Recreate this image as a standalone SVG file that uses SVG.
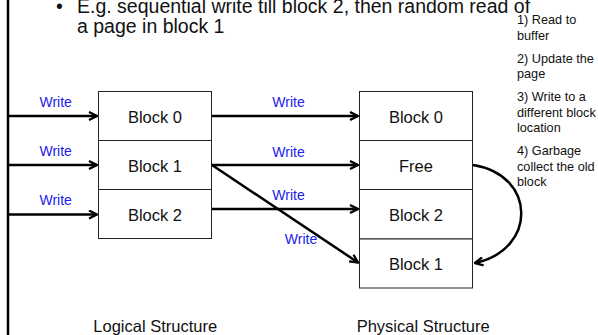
<svg xmlns="http://www.w3.org/2000/svg" width="598" height="335" viewBox="0 0 598 335">
  <style>
    .txt { font-family: "Liberation Sans", Arial, sans-serif; fill: #111; }
    .head { font-size: 19.5px; }
    .note { font-size: 12.7px; }
    .blk rect { fill: #fff; stroke: #222; stroke-width: 1; }
    .blk text { font-family: "Liberation Sans", Arial, sans-serif; font-size: 16.5px; fill: #111; text-anchor: middle; }
    .lbl { font-family: "Liberation Sans", Arial, sans-serif; font-size: 14px; fill: #2020ee; text-anchor: middle; }
    .cap { font-family: "Liberation Sans", Arial, sans-serif; font-size: 16.5px; fill: #111; }
    .wire { fill: none; stroke: #000; stroke-width: 2.5; marker-end: url(#arrow); }
  </style>
  <defs>
    <marker id="arrow" viewBox="0 0 10 10" refX="9" refY="5" markerWidth="10" markerHeight="10" markerUnits="userSpaceOnUse" orient="auto">
      <path d="M1,1 L9,5 L1,9" fill="none" stroke="#000" stroke-width="2.3"/>
    </marker>
  </defs>

  <rect width="598" height="335" fill="#fff"/>

  <!-- left edge rule -->
  <line x1="8" y1="0" x2="8" y2="335" stroke="#000" stroke-width="2.5"/>

  <!-- heading bullet -->
  <text class="txt head" x="56" y="13">•</text>
  <text class="txt head" x="77" y="13">E.g. sequential write till block 2, then random read of</text>
  <text class="txt head" x="77" y="32.5">a page in block 1</text>

  <!-- step notes -->
  <g id="notes" class="txt note">
    <text x="517" y="24">1) Read to</text>
    <text x="517" y="39.5">buffer</text>
    <text x="517" y="62.5">2) Update the</text>
    <text x="517" y="78">page</text>
    <text x="517" y="101">3) Write to a</text>
    <text x="517" y="116.5">different block</text>
    <text x="517" y="132">location</text>
    <text x="517" y="155">4) Garbage</text>
    <text x="517" y="170.5">collect the old</text>
    <text x="517" y="186">block</text>
  </g>

  <!-- logical blocks -->
  <g id="logical-block-0" class="blk">
    <rect x="98.5" y="91.5" width="113" height="49"/>
    <text x="155" y="123">Block 0</text>
  </g>
  <g id="logical-block-1" class="blk">
    <rect x="98.5" y="140.5" width="113" height="49"/>
    <text x="155" y="172">Block 1</text>
  </g>
  <g id="logical-block-2" class="blk">
    <rect x="98.5" y="189.5" width="113" height="49"/>
    <text x="155" y="221">Block 2</text>
  </g>

  <!-- physical blocks -->
  <g id="physical-block-0" class="blk">
    <rect x="359.5" y="91.5" width="113" height="49"/>
    <text x="416" y="123">Block 0</text>
  </g>
  <g id="physical-free" class="blk">
    <rect x="359.5" y="140.5" width="113" height="49"/>
    <text x="416" y="172">Free</text>
  </g>
  <g id="physical-block-2" class="blk">
    <rect x="359.5" y="189.5" width="113" height="49.5"/>
    <text x="416" y="221">Block 2</text>
  </g>
  <g id="physical-block-1" class="blk">
    <rect x="359.5" y="239" width="113" height="49"/>
    <text x="416" y="270">Block 1</text>
  </g>

  <!-- connectors -->
  <g id="connectors">
    <path class="wire" d="M9,116 H97"/>
    <path class="wire" d="M9,165 H97"/>
    <path class="wire" d="M9,214.5 H97"/>
    <path class="wire" d="M212,116 H358"/>
    <path class="wire" d="M212,165 H358"/>
    <path class="wire" d="M212,209 H358"/>
    <path class="wire" d="M212,165 L358,262.5"/>
    <path class="wire" d="M473,165 C537,175 537,250 475,263"/>
  </g>

  <!-- connector labels -->
  <g id="labels">
    <text class="lbl" x="55.7" y="106.5">Write</text>
    <text class="lbl" x="55.7" y="156">Write</text>
    <text class="lbl" x="55.7" y="205">Write</text>
    <text class="lbl" x="288.5" y="106.5">Write</text>
    <text class="lbl" x="288.5" y="156.5">Write</text>
    <text class="lbl" x="288.5" y="200">Write</text>
    <text class="lbl" x="301" y="244">Write</text>
  </g>

  <!-- structure captions -->
  <text class="cap" x="93.3" y="331.5">Logical Structure</text>
  <text class="cap" x="356.7" y="331.5">Physical Structure</text>
</svg>
